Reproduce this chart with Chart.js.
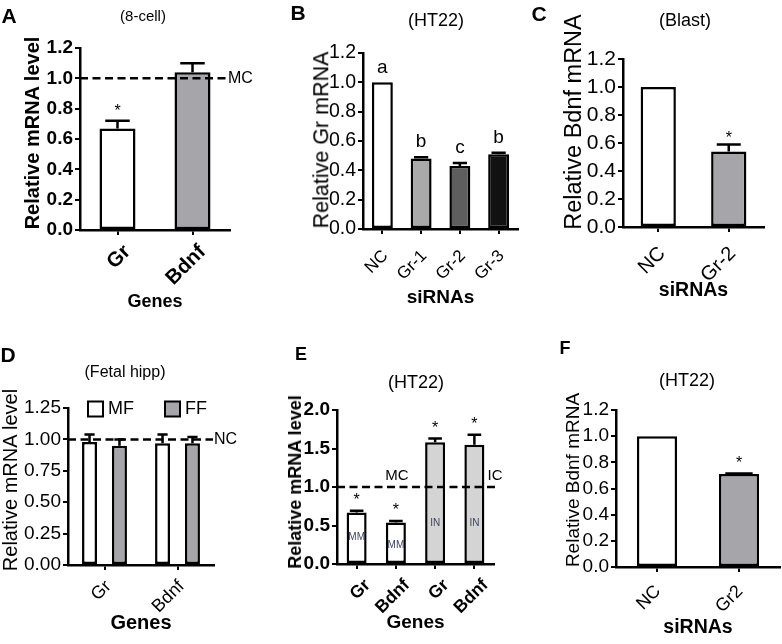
<!DOCTYPE html>
<html>
<head>
<meta charset="utf-8">
<script src="https://cdn.jsdelivr.net/npm/chart.js@4.4.1/dist/chart.umd.min.js"></script>
<style>
  body { margin: 0; background: #fff; width: 782px; height: 644px; position: relative; overflow: hidden; font-family: "Liberation Sans", Arial, sans-serif; }
  canvas { position: absolute; }
  .txt { position: absolute; transform: translate(-50%, -50%); line-height: 1; white-space: nowrap; color: #000; }
  .ytitle { position: absolute; transform: translate(-50%, -50%) rotate(-90deg); line-height: 1; white-space: nowrap; color: #000; }
  .b { font-weight: bold; }
</style>
</head>
<body>
<canvas id="cA" width="262" height="322" style="left:0;top:0"></canvas>
<canvas id="cB" width="268" height="322" style="left:262px;top:0"></canvas>
<canvas id="cC" width="252" height="322" style="left:530px;top:0"></canvas>
<canvas id="cD" width="262" height="322" style="left:0;top:322px"></canvas>
<canvas id="cE" width="268" height="322" style="left:262px;top:322px"></canvas>
<canvas id="cF" width="252" height="322" style="left:530px;top:322px"></canvas>

<div class="txt b" style="left:9px;top:15px;font-size:21px">A</div>
<div class="txt" style="left:143px;top:15px;font-size:15px">(8-cell)</div>
<div class="ytitle b" style="left:32px;top:133px;font-size:20px">Relative mRNA level</div>
<div class="txt b" style="left:298px;top:12px;font-size:21px">B</div>
<div class="txt" style="left:436px;top:20px;font-size:18px">(HT22)</div>
<div class="ytitle" style="left:322px;top:140px;font-size:21.5px">Relative Gr mRNA</div>
<div class="txt b" style="left:539px;top:13px;font-size:21px">C</div>
<div class="txt" style="left:685px;top:20px;font-size:18px">(Blast)</div>
<div class="ytitle" style="left:574px;top:122px;font-size:23.5px">Relative Bdnf mRNA</div>
<div class="txt b" style="left:8px;top:354px;font-size:21px">D</div>
<div class="txt" style="left:125px;top:372px;font-size:16px">(Fetal hipp)</div>
<div class="ytitle" style="left:10px;top:480px;font-size:20px">Relative mRNA level</div>
<div class="txt b" style="left:301px;top:354px;font-size:18px">E</div>
<div class="txt" style="left:416px;top:382px;font-size:18px">(HT22)</div>
<div class="ytitle b" style="left:295px;top:482px;font-size:18px">Relative mRNA level</div>
<div class="txt b" style="left:565px;top:348px;font-size:18px">F</div>
<div class="txt" style="left:687px;top:380px;font-size:18px">(HT22)</div>
<div class="ytitle" style="left:572px;top:480px;font-size:19px">Relative Bdnf mRNA</div>

<script>
// A: 8-cell embryos
const genesA = ["Gr", "Bdnf"];
const valuesA = [0.67, 1.04];
const errorsA = [0.05, 0.06];
const marksA = ["*", ""];

// B: HT22, Gr knockdown
const sirnaB = ["NC", "Gr-1", "Gr-2", "Gr-3"];
const valuesB = [1.0, 0.48, 0.43, 0.51];
const errorsB = [0, 0.01, 0.02, 0.01];
const lettersB = ["a", "b", "c", "b"];

// C: blastocyst
const sirnaC = ["NC", "Gr-2"];
const valuesC = [1.0, 0.54];
const errorsC = [0, 0.05];
const marksC = ["", "*"];

// D: fetal hippocampus
const genesD = ["Gr", "Bdnf"];
const valuesMF = [0.98, 0.97];
const errorsMF = [0.06, 0.07];
const valuesFF = [0.95, 0.97];
const errorsFF = [0.05, 0.05];

// E: HT22 MM / IN
const genesE = ["Gr", "Bdnf", "Gr", "Bdnf"];
const valuesE = [0.67, 0.54, 1.58, 1.55];
const errorsE = [0.02, 0.02, 0.05, 0.13];
const groupsE = ["MM", "MM", "IN", "IN"];
const marksE = ["*", "*", "*", "*"];

// F: HT22 Bdnf
const sirnaF = ["NC", "Gr2"];
const valuesF = [1.0, 0.71];
const errorsF = [0, 0.005];
const marksF = ["", "*"];

const FONT = "'Liberation Sans', Arial, sans-serif";
Chart.defaults.font.family = FONT;
Chart.defaults.color = "#000";

// error bars, marks, dashed reference line, legend
const extras = {
  id: "extras",
  afterDatasetsDraw(chart, args, opts) {
    const ctx = chart.ctx;
    const y = chart.scales.y;
    const area = chart.chartArea;
    ctx.save();
    chart.data.datasets.forEach((ds, di) => {
      const meta = chart.getDatasetMeta(di);
      meta.data.forEach((bar, i) => {
        const err = ds.errors ? ds.errors[i] : 0;
        const top = y.getPixelForValue(ds.data[i] + err);
        if (err > 0) {
          const half = bar.width * 0.34;
          ctx.strokeStyle = "#000";
          ctx.lineWidth = 2.5;
          ctx.beginPath();
          ctx.moveTo(bar.x, bar.y);
          ctx.lineTo(bar.x, top);
          ctx.moveTo(bar.x - half, top);
          ctx.lineTo(bar.x + half, top);
          ctx.stroke();
        }
        if (ds.marks && ds.marks[i]) {
          ctx.fillStyle = "#000";
          ctx.font = opts.markFont;
          ctx.textAlign = "center";
          ctx.textBaseline = "middle";
          ctx.fillText(ds.marks[i], bar.x, top - opts.markGap);
        }
        if (ds.inner && ds.inner[i]) {
          ctx.fillStyle = "#3a4560";
          ctx.font = "10px " + FONT;
          ctx.textAlign = "center";
          ctx.textBaseline = "middle";
          ctx.fillText(ds.inner[i], bar.x, y.getPixelForValue(opts.innerY[i]));
        }
      });
    });
    if (opts.refLine) {
      const ry = y.getPixelForValue(opts.refLine.value);
      ctx.strokeStyle = "#000";
      ctx.lineWidth = 2.5;
      ctx.setLineDash([8, 4.5]);
      ctx.beginPath();
      ctx.moveTo(area.left, ry);
      ctx.lineTo(opts.refLine.end, ry);
      ctx.stroke();
      ctx.setLineDash([]);
      ctx.fillStyle = "#000";
      ctx.textBaseline = "middle";
      opts.refLine.tags.forEach((l) => {
        ctx.font = l.font;
        ctx.textAlign = l.align;
        ctx.fillText(l.text, l.x, y.getPixelForValue(l.v));
      });
    }
    if (opts.legend) {
      const lg = opts.legend;
      ctx.font = lg.font;
      ctx.textAlign = "left";
      ctx.textBaseline = "middle";
      chart.data.datasets.forEach((ds, di) => {
        const x = lg.x[di];
        ctx.fillStyle = ds.backgroundColor;
        ctx.fillRect(x, lg.y - 7.5, 15, 15);
        ctx.strokeStyle = "#000";
        ctx.lineWidth = 2;
        ctx.strokeRect(x, lg.y - 7.5, 15, 15);
        ctx.fillStyle = "#000";
        ctx.fillText(ds.label, x + 20, lg.y);
      });
    }
    ctx.restore();
  },
};

const makePanel = (id, p) => {
  const canvas = document.getElementById(id);
  const w = canvas.width;
  const h = canvas.height;
  const weight = p.bold ? "bold" : "normal";
  const grid = () => ({
    display: true,
    drawOnChartArea: false,
    drawTicks: true,
    tickLength: 5,
    color: "#000",
    lineWidth: 2,
    offset: false,
  });
  const border = () => ({ display: true, color: "#000", width: 2.5 });
  return new Chart(canvas, {
    type: "bar",
    data: { labels: p.labels, datasets: p.datasets },
    options: {
      responsive: false,
      animation: false,
      layout: {
        autoPadding: false,
        padding: { left: 0, top: p.area[1], right: w - p.area[2], bottom: 0 },
      },
      plugins: {
        legend: { display: false },
        tooltip: { enabled: false },
        extras: p.extras,
      },
      scales: {
        x: {
          grid: grid(),
          border: border(),
          afterFit: (s) => { s.height = h - p.area[3]; },
          ticks: {
            minRotation: 45,
            maxRotation: 45,
            autoSkip: false,
            padding: p.xTickPad,
            labelOffset: p.xTickShift,
            font: { size: p.xTickSize, weight: weight },
          },
          title: {
            display: true,
            text: p.xTitle,
            padding: { top: 0, bottom: p.xTitlePad },
            font: { size: p.xTitleSize, weight: "bold", lineHeight: 1 },
          },
        },
        y: {
          min: 0,
          max: p.yMax,
          grid: grid(),
          border: border(),
          afterFit: (s) => { s.width = p.area[0]; },
          ticks: {
            stepSize: p.yStep,
            autoSkip: false,
            padding: 2,
            callback: (v) => v.toFixed(p.yDigits),
            font: { size: p.yTickSize, weight: weight },
          },
        },
      },
    },
    plugins: [extras],
  });
};

const dataset = (values, errors, colors, extra) => Object.assign({
  data: values,
  errors: errors,
  backgroundColor: colors,
  borderColor: "#000",
  borderWidth: 2.5,
  borderSkipped: false,
  categoryPercentage: 1,
  barPercentage: 0.5,
}, extra);

window.addEventListener("DOMContentLoaded", () => {
  makePanel("cA", {
    labels: genesA,
    datasets: [dataset(valuesA, errorsA, ["#fff", "#a5a5aa"], { marks: marksA, barPercentage: 0.48 })],
    area: [80, 48, 230, 230],
    bold: true,
    yMax: 1.2, yStep: 0.2, yDigits: 1, yTickSize: 19,
    xTitle: "Genes", xTitleSize: 18, xTitlePad: 11,
    xTickSize: 20.5, xTickPad: 5, xTickShift: 10,
    extras: {
      markFont: "16px " + FONT, markGap: 9,
      refLine: { value: 1.0, end: 227, tags: [{ text: "MC", x: 228, v: 1.0, align: "left", font: "16px " + FONT }] },
    },
  });

  makePanel("cB", {
    labels: sirnaB,
    datasets: [dataset(valuesB, errorsB, ["#fff", "#a9a9a9", "#5e5e5e", "#111"], { marks: lettersB, barPercentage: 0.54 })],
    area: [101, 53, 256, 229],
    yMax: 1.2, yStep: 0.2, yDigits: 1, yTickSize: 19.5,
    xTitle: "siRNAs", xTitleSize: 19, xTitlePad: 15,
    xTickSize: 17, xTickPad: 12, xTickShift: 3,
    extras: { markFont: "19px " + FONT, markGap: 15 },
  });

  makePanel("cC", {
    labels: sirnaC,
    datasets: [dataset(valuesC, errorsC, ["#fff", "#a5a5aa"], { marks: marksC })],
    area: [93, 59, 234, 227],
    yMax: 1.2, yStep: 0.2, yDigits: 1, yTickSize: 21,
    xTitle: "siRNAs", xTitleSize: 19.5, xTitlePad: 22,
    xTickSize: 20, xTickPad: 10, xTickShift: 4,
    extras: { markFont: "16px " + FONT, markGap: 6 },
  });

  makePanel("cD", {
    labels: genesD,
    datasets: [
      dataset(valuesMF, errorsMF, "#fff", { label: "MF", categoryPercentage: 0.82, barPercentage: 0.5 }),
      dataset(valuesFF, errorsFF, "#a5a5aa", { label: "FF", categoryPercentage: 0.82, barPercentage: 0.5 }),
    ],
    area: [68, 86, 214, 243],
    yMax: 1.25, yStep: 0.25, yDigits: 2, yTickSize: 19,
    xTitle: "Genes", xTitleSize: 20, xTitlePad: 11,
    xTickSize: 18, xTickPad: 6, xTickShift: 4,
    extras: {
      markFont: "16px " + FONT, markGap: 10,
      legend: { x: [88, 165], y: 87, font: "18px " + FONT },
      refLine: { value: 1.0, end: 213, tags: [{ text: "NC", x: 214, v: 1.0, align: "left", font: "16px " + FONT }] },
    },
  });

  makePanel("cE", {
    labels: genesE,
    datasets: [dataset(valuesE, errorsE, ["#fff", "#fff", "#d4d4d4", "#d4d4d4"], { marks: marksE, inner: groupsE, barPercentage: 0.51 })],
    area: [75, 88, 232, 242],
    bold: true,
    yMax: 2.0, yStep: 0.5, yDigits: 1, yTickSize: 19,
    xTitle: "Genes", xTitleSize: 19, xTitlePad: 12,
    xTickSize: 17.5, xTickPad: 6, xTickShift: 11,
    extras: {
      markFont: "16px " + FONT, markGap: 10,
      innerY: [0.35, 0.25, 0.53, 0.53],
      refLine: {
        value: 1.0, end: 237,
        tags: [
          { text: "MC", x: 135, v: 1.15, align: "center", font: "15px " + FONT },
          { text: "IC", x: 233, v: 1.15, align: "center", font: "15px " + FONT },
        ],
      },
    },
  });

  makePanel("cF", {
    labels: sirnaF,
    datasets: [dataset(valuesF, errorsF, ["#fff", "#a5a5aa"], { marks: marksF, barPercentage: 0.49 })],
    area: [86, 88, 250, 245],
    yMax: 1.2, yStep: 0.2, yDigits: 1, yTickSize: 19,
    xTitle: "siRNAs", xTitleSize: 19.5, xTitlePad: 7,
    xTickSize: 18, xTickPad: 9, xTickShift: 1,
    extras: { markFont: "16px " + FONT, markGap: 10 },
  });
});
</script>
</body>
</html>
